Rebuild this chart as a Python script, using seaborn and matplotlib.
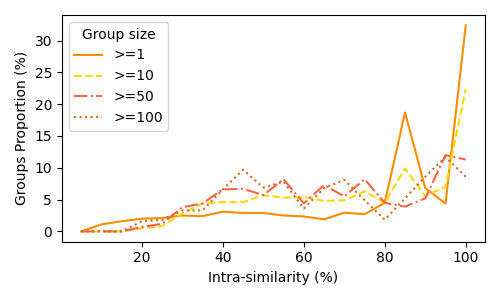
import matplotlib
matplotlib.use("Agg")
import matplotlib.pyplot as plt
import seaborn as sns

similarity = [5, 10, 15, 20, 25, 30, 35, 40, 45, 50, 55, 60, 65, 70, 75, 80, 85, 90, 95, 100]

size_1 = [0.0, 1.1, 1.6, 2.0, 2.1, 2.5, 2.4, 3.1, 2.9, 2.9, 2.5, 2.35, 1.9, 2.95, 2.7, 4.5, 18.7, 6.8, 4.4, 32.4]
size_10 = [0.0, 0.0, 0.0, 0.5, 0.85, 2.8, 4.4, 4.6, 4.6, 5.7, 5.3, 5.4, 4.8, 4.9, 6.3, 4.5, 9.9, 5.6, 7.0, 22.4]
size_50 = [0.0, 0.0, 0.0, 0.7, 1.2, 3.8, 4.4, 6.6, 6.7, 5.7, 8.2, 4.4, 7.3, 5.5, 8.2, 4.5, 3.9, 5.2, 12.0, 11.3]
size_100 = [0.0, 0.0, 0.0, 1.6, 1.8, 3.3, 3.3, 6.6, 9.7, 6.9, 7.8, 3.6, 6.8, 8.1, 4.9, 1.85, 5.2, 8.6, 11.7, 8.6]

labels = [">=1", ">=10", ">=50", ">=100"]
series = [size_1, size_10, size_50, size_100]
colors = ["darkorange", "gold", "tomato", "chocolate"]
styles = ["-", "--", "-.", ":"]

fig, ax = plt.subplots(figsize=(5, 3), dpi=100)

for vals, lab, col, ls in zip(series, labels, colors, styles):
    sns.lineplot(x=similarity, y=vals, label=lab, color=col, linestyle=ls, ax=ax)

ax.set_xlabel("Intra-similarity (%)")
ax.set_ylabel("Groups Proportion (%)")
ax.legend(title="Group size", loc="upper left")

plt.tight_layout()
plt.savefig("out.png")
